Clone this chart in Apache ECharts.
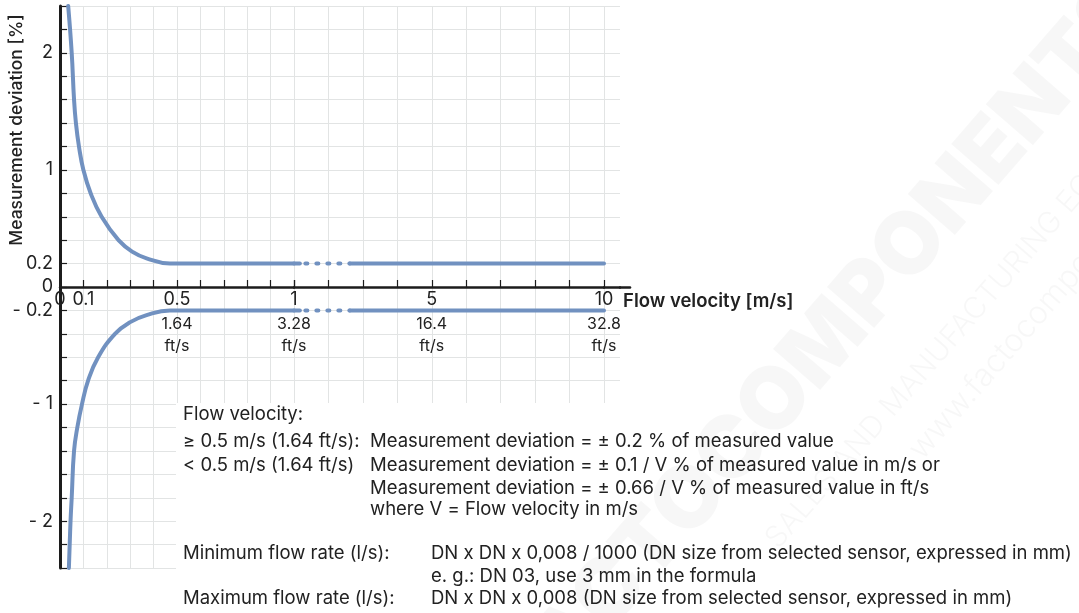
<!DOCTYPE html>
<html><head><meta charset="utf-8">
<script src="https://cdn.jsdelivr.net/npm/echarts@6/dist/echarts.min.js"></script>
<style>html,body{margin:0;padding:0;background:#fff}#c{width:1079px;height:613px}</style>
</head><body><div id="c"></div>
<script>
// ---- data (velocity m/s, measurement deviation %) ----
const upperLow = [[0.035,2.4],[0.05,2.0],[0.06,1.6],[0.068,1.4],[0.081,1.2],[0.1,1.0],[0.131,0.8],[0.178,0.6],[0.25,0.4],[0.31,0.3],[0.37,0.245],[0.47,0.2],[1,0.2]];
const lowerLow = [[0.038,-2.4],[0.045,-2.0],[0.05,-1.8],[0.06,-1.4],[0.074,-1.2],[0.094,-1.0],[0.12,-0.8],[0.163,-0.6],[0.235,-0.4],[0.3,-0.3],[0.37,-0.24],[0.47,-0.2],[1,-0.2]];
const upperHighA = [[1,0.2],[1.17,0.2]];
const upperHighGap = [[1.17,0.2],[2.62,0.2]];
const upperHighB = [[2.62,0.2],[10,0.2]];
const lowerHighA = [[1,-0.2],[1.17,-0.2]];
const lowerHighGap = [[1.17,-0.2],[2.62,-0.2]];
const lowerHighB = [[2.62,-0.2],[10,-0.2]];
const yTickLabels = [2, 1, 0.2, 0, -0.2, -1, -2];
const xLabelsLow = {0:'0', 0.1:'0.1', 0.5:'0.5', 1:'1'};
const xLabelsHigh = {5:'5', 10:'10'};
const ftLabels = {0.5:'1.64', 1:'3.28', 5:'16.4', 10:'32.8'};

const FONT = 'Inter';
const TXT = '#222';
const LINE = '#7191c0';
const GRIDC = '#e2e4e4';
const AX = '#1c1c1c';
const AXIS_OFFSET = -281; // moves the x axis from the grid bottom up to the zero line

function near(a,b){return Math.abs(a-b)<1e-6;}
function xFmt(map){
  return function(v){
    for (const k in map){
      if (near(+k, v)){
        let s = '{a|' + map[k] + '}';
        for (const f in ftLabels){ if (near(+f, v)) s += '\n{b|' + ftLabels[f] + '}\n{c|ft/s}'; }
        return s;
      }
    }
    return '';
  };
}
const rich = {
  a:{fontSize:18, lineHeight:22, color:TXT, fontFamily:FONT},
  b:{fontSize:16, lineHeight:26, color:TXT, fontFamily:FONT},
  c:{fontSize:16, lineHeight:18, color:TXT, fontFamily:FONT}
};
const yBase = {type:'value', min:-2.4, max:2.4, interval:0.2};
const hideAll = {axisLine:{show:false}, axisTick:{show:false}, axisLabel:{show:false}, splitLine:{show:false}};
const splitY = {show:true, lineStyle:{color:GRIDC, width:1}};

const lineSeries = (data, xi, dashed) => ({
  type:'line', data:data, xAxisIndex:xi, yAxisIndex:xi, smooth: xi===0 ? 0.45 : false,
  showSymbol:false, silent:true, z:3,
  lineStyle: dashed ? {color:LINE, width:4, type:[2,9], dashOffset:5.5, cap:'round'} : {color:LINE, width:4, cap:'round'}
});
const BODY = '18.5px Inter';
const txt = (x, y, s, font) => ({type:'text', z:5, x:x, y:y, silent:true,
  style:{text:s, fill:TXT, font: font || BODY, verticalAlign:'middle'}});

const chart = echarts.init(document.getElementById('c'), null, {renderer:'canvas'});
chart.setOption({
  animation:false,
  backgroundColor:'#fff',
  grid:[
    {left:60, top:6, width:234, height:562, outerBoundsMode:'none'},
    {left:294, top:6, width:310, height:562, outerBoundsMode:'none'},
    {left:604, top:6, width:16, height:562, outerBoundsMode:'none'},
    {left:620, top:6, width:10, height:562, outerBoundsMode:'none'}
  ],
  xAxis:[
    {type:'value', gridIndex:0, min:0, max:1, interval:0.1, position:'bottom', offset:AXIS_OFFSET,
      axisLine:{onZero:false, lineStyle:{color:AX, width:2.5}},
      axisTick:{inside:true, length:7, lineStyle:{color:AX, width:1.2}},
      axisLabel:{margin:2, formatter:xFmt(xLabelsLow), rich:rich, hideOverlap:false, showMinLabel:true, showMaxLabel:true},
      splitLine:{show:true, lineStyle:{color:GRIDC, width:1}}},
    {type:'value', gridIndex:1, min:1, max:10, interval:1, position:'bottom', offset:AXIS_OFFSET,
      axisLine:{onZero:false, lineStyle:{color:AX, width:2.5}},
      axisTick:{inside:true, length:7, lineStyle:{color:AX, width:1.2}},
      axisLabel:{margin:2, formatter:xFmt(xLabelsHigh), rich:rich, hideOverlap:false, showMinLabel:true, showMaxLabel:true},
      splitLine:{show:true, lineStyle:{color:GRIDC, width:1}}},
    {type:'value', gridIndex:2, min:0, max:1, position:'bottom', offset:AXIS_OFFSET,
      axisLine:{onZero:false, lineStyle:{color:AX, width:2.5}},
      axisTick:{show:false}, axisLabel:{show:false}, splitLine:{show:false}},
    {type:'value', gridIndex:3, min:0, max:1, position:'bottom', offset:AXIS_OFFSET,
      axisLine:{onZero:false, lineStyle:{color:AX, width:2.5}},
      axisTick:{show:false}, axisLabel:{show:false}, splitLine:{show:false}}
  ],
  yAxis:[
    Object.assign({}, yBase, {gridIndex:0,
      axisLine:{show:true, onZero:false, lineStyle:{color:AX, width:3}},
      axisTick:{show:true, inside:true, length:7, lineStyle:{color:AX, width:1.2}},
      axisLabel:{show:true, margin:7, color:TXT, fontSize:18, fontFamily:FONT, showMinLabel:true, showMaxLabel:true,
        formatter:function(v){
          for (const t of yTickLabels){ if (near(t,v)){ return t<0 ? '- ' + String(-t) : String(t); } }
          return '';
        }},
      splitLine:splitY}),
    Object.assign({}, yBase, {gridIndex:1}, hideAll, {splitLine:splitY}),
    Object.assign({}, yBase, {gridIndex:2}, hideAll, {splitLine:splitY}),
    Object.assign({}, yBase, {gridIndex:3}, hideAll)
  ],
  series:[
    lineSeries(upperLow,0,false),
    lineSeries(lowerLow,0,false),
    lineSeries(upperHighA,1,false),
    lineSeries(upperHighGap,1,true),
    lineSeries(upperHighB,1,false),
    lineSeries(lowerHighA,1,false),
    lineSeries(lowerHighGap,1,true),
    lineSeries(lowerHighB,1,false)
  ],
  graphic:[
    {type:'rect', z:1, silent:true, shape:{x:176, y:403, width:903, height:210}, style:{fill:'#fff'}},
    {type:'text', z:5, x:17, y:130, rotation:Math.PI/2, silent:true,
      style:{text:'Measurement deviation [%]', fill:TXT, font:'500 17.5px Inter', align:'center', verticalAlign:'middle'}},
    txt(623, 301, 'Flow velocity [m/s]', '600 18.5px Inter'),
    txt(183, 414, 'Flow velocity:'),
    txt(183, 441, '\u2265 0.5 m/s (1.64 ft/s):'),
    txt(370, 441, 'Measurement deviation = \u00b1 0.2 % of measured value'),
    txt(183, 465, '< 0.5 m/s (1.64 ft/s)'),
    txt(370, 465, 'Measurement deviation = \u00b1 0.1 / V % of measured value in m/s or'),
    txt(370, 488, 'Measurement deviation = \u00b1 0.66 / V % of measured value in ft/s'),
    txt(370, 509, 'where V = Flow velocity in m/s'),
    txt(183, 553, 'Minimum flow rate (l/s):'),
    txt(431, 553, 'DN x DN x 0,008 / 1000 (DN size from selected sensor, expressed in mm)'),
    txt(431, 576, 'e. g.: DN 03, use 3 mm in the formula'),
    txt(183, 598, 'Maximum flow rate (l/s):'),
    txt(431, 598, 'DN x DN x 0,008 (DN size from selected sensor, expressed in mm)'),
    // faint watermark
    {type:'text', z:6, x:825, y:345, rotation:49*Math.PI/180, silent:true,
      style:{text:'FACTOCOMPONENTS', fill:'rgba(0,0,0,0.03)', font:'900 86px Inter', align:'center', verticalAlign:'middle'}},
    {type:'text', z:6, x:975, y:310, rotation:49*Math.PI/180, silent:true,
      style:{text:'SALES AND MANUFACTURING EQUIPMENT', fill:'rgba(0,0,0,0.03)', font:'300 30px Inter', align:'center', verticalAlign:'middle'}},
    {type:'text', z:6, x:915, y:455, rotation:49*Math.PI/180, silent:true,
      style:{text:'www.factocomponents.com', fill:'rgba(0,0,0,0.03)', font:'300 32px Inter', align:'left', verticalAlign:'middle'}}
  ]
});
</script></body></html>
